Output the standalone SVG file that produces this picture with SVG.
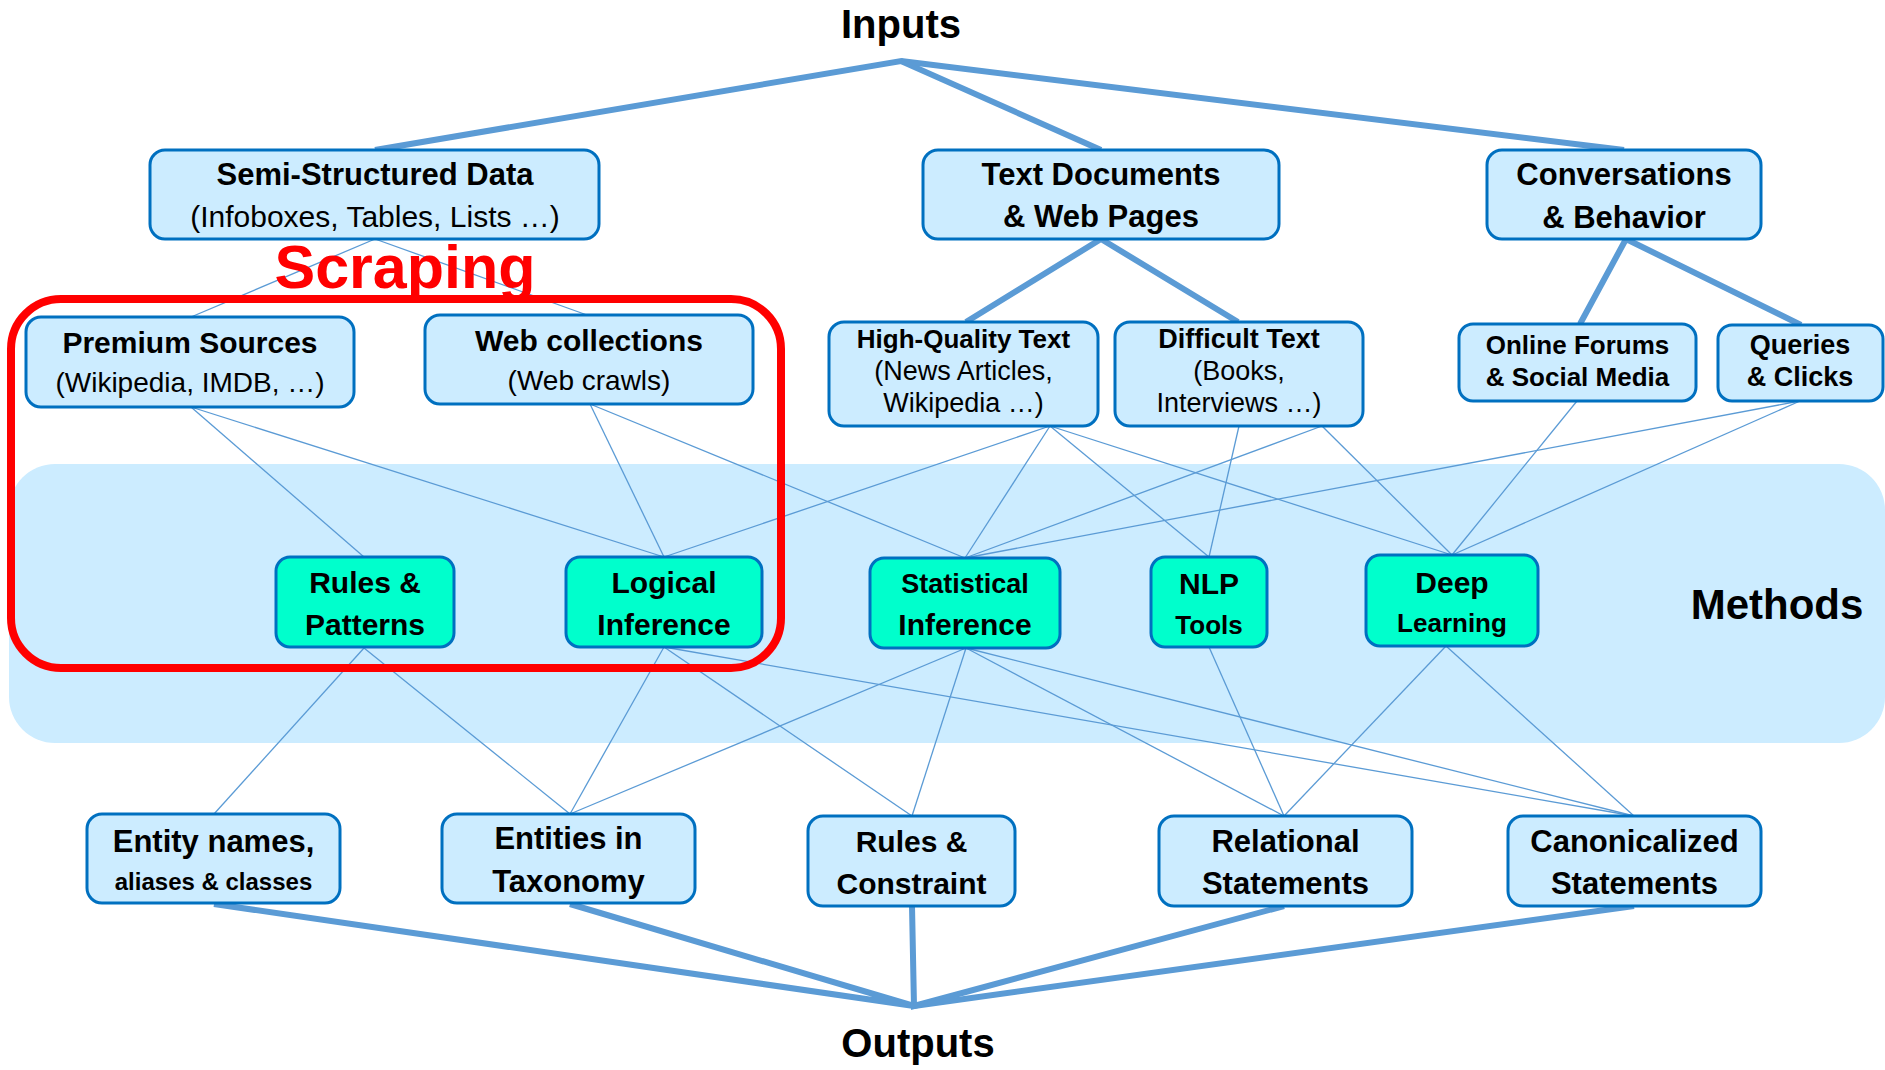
<svg xmlns="http://www.w3.org/2000/svg" width="1885" height="1070" viewBox="0 0 1885 1070">
<style>
text{font-family:"Liberation Sans",Arial,sans-serif;fill:#000;text-anchor:middle}
.b{font-weight:bold}
.box{fill:#CCECFF;stroke:#0070C0;stroke-width:3}
.mth{fill:#00FFCC;stroke:#0070C0;stroke-width:3}
.thick{stroke:#5B9BD5;stroke-width:6;fill:none;stroke-linecap:butt}
.thin{stroke:#5B9BD5;stroke-width:1.3;fill:none}
</style>
<rect id="methods-band" x="9" y="464" width="1876" height="279" rx="46" ry="46" fill="#CCECFF"/>
<text x="1777" y="619" class="b" style="font-size:42px">Methods</text>
<text x="901" y="38" class="b" style="font-size:40px">Inputs</text>
<text x="918" y="1057" class="b" style="font-size:40px">Outputs</text>
<g id="connectors">
<polyline class="thick" points="375,150 901,61 1101,150"/>
<line class="thick" x1="901" y1="61" x2="1624" y2="150"/>
<polyline class="thick" points="966,322 1101,239 1238,322"/>
<polyline class="thick" points="1580,324 1626,239 1801,325"/>
<polyline class="thick" points="214,904 914,1006 570,904"/>
<polyline class="thick" points="912,906 914,1006 1284,906"/>
<line class="thick" x1="914" y1="1006" x2="1634" y2="906"/>
<line class="thin" x1="375" y1="239" x2="191" y2="317"/>
<line class="thin" x1="375" y1="239" x2="587" y2="315"/>
<line class="thin" x1="191" y1="407" x2="364" y2="557"/>
<line class="thin" x1="191" y1="407" x2="664" y2="557"/>
<line class="thin" x1="590" y1="404" x2="664" y2="557"/>
<line class="thin" x1="590" y1="404" x2="965" y2="558"/>
<line class="thin" x1="1050" y1="426" x2="664" y2="557"/>
<line class="thin" x1="1050" y1="426" x2="965" y2="558"/>
<line class="thin" x1="1050" y1="426" x2="1209" y2="557"/>
<line class="thin" x1="1050" y1="426" x2="1452" y2="555"/>
<line class="thin" x1="1239" y1="426" x2="1209" y2="557"/>
<line class="thin" x1="1322" y1="426" x2="965" y2="558"/>
<line class="thin" x1="1322" y1="426" x2="1452" y2="555"/>
<line class="thin" x1="1577" y1="401" x2="1452" y2="555"/>
<line class="thin" x1="1800" y1="401" x2="965" y2="558"/>
<line class="thin" x1="1800" y1="401" x2="1452" y2="555"/>
<line class="thin" x1="364" y1="648" x2="214" y2="814"/>
<line class="thin" x1="364" y1="648" x2="570" y2="814"/>
<line class="thin" x1="664" y1="647" x2="570" y2="814"/>
<line class="thin" x1="664" y1="647" x2="912" y2="816"/>
<line class="thin" x1="664" y1="647" x2="1634" y2="816"/>
<line class="thin" x1="966" y1="648" x2="570" y2="814"/>
<line class="thin" x1="966" y1="648" x2="912" y2="816"/>
<line class="thin" x1="966" y1="648" x2="1284" y2="816"/>
<line class="thin" x1="966" y1="648" x2="1634" y2="816"/>
<line class="thin" x1="1209" y1="647" x2="1284" y2="816"/>
<line class="thin" x1="1446" y1="646" x2="1284" y2="816"/>
<line class="thin" x1="1446" y1="646" x2="1634" y2="816"/>
</g>
<g id="semi-structured">
<rect class="box" x="150" y="150" width="449" height="89" rx="15"/>
<text x="375" y="185" class="b" style="font-size:31px">Semi-Structured Data</text>
<text x="375" y="227" style="font-size:30px">(Infoboxes, Tables, Lists …)</text>
</g>
<g id="text-documents">
<rect class="box" x="923" y="150" width="356" height="89" rx="15"/>
<text x="1101" y="185" class="b" style="font-size:31px">Text Documents</text>
<text x="1101" y="227" class="b" style="font-size:31px">&amp; Web Pages</text>
</g>
<g id="conversations">
<rect class="box" x="1487" y="150" width="274" height="89" rx="15"/>
<text x="1624" y="185" class="b" style="font-size:31px">Conversations</text>
<text x="1624" y="228" class="b" style="font-size:31px">&amp; Behavior</text>
</g>
<g id="premium-sources">
<rect class="box" x="26" y="317" width="328" height="90" rx="15"/>
<text x="190" y="353" class="b" style="font-size:30px">Premium Sources</text>
<text x="190" y="392" style="font-size:28px">(Wikipedia, IMDB, …)</text>
</g>
<g id="web-collections">
<rect class="box" x="425" y="315" width="328" height="89" rx="15"/>
<text x="589" y="351" class="b" style="font-size:30px">Web collections</text>
<text x="589" y="390" style="font-size:28px">(Web crawls)</text>
</g>
<g id="high-quality-text">
<rect class="box" x="829" y="322" width="269" height="104" rx="15"/>
<text x="963.5" y="348" class="b" style="font-size:26px">High-Quality Text</text>
<text x="963.5" y="380" style="font-size:27px">(News Articles,</text>
<text x="963.5" y="412" style="font-size:27px">Wikipedia …)</text>
</g>
<g id="difficult-text">
<rect class="box" x="1115" y="322" width="248" height="104" rx="15"/>
<text x="1239" y="348" class="b" style="font-size:27px">Difficult Text</text>
<text x="1239" y="380" style="font-size:27px">(Books,</text>
<text x="1239" y="412" style="font-size:27px">Interviews …)</text>
</g>
<g id="online-forums">
<rect class="box" x="1459" y="324" width="237" height="77" rx="14"/>
<text x="1577.5" y="354" class="b" style="font-size:26px">Online Forums</text>
<text x="1577.5" y="386" class="b" style="font-size:26px">&amp; Social Media</text>
</g>
<g id="queries-clicks">
<rect class="box" x="1718" y="325" width="165" height="76" rx="14"/>
<text x="1800" y="354" class="b" style="font-size:27px">Queries</text>
<text x="1800" y="386" class="b" style="font-size:27px">&amp; Clicks</text>
</g>
<g id="rules-patterns">
<rect class="mth" x="276" y="557" width="178" height="90" rx="14"/>
<text x="365" y="593" class="b" style="font-size:30px">Rules &amp;</text>
<text x="365" y="635" class="b" style="font-size:30px">Patterns</text>
</g>
<g id="logical-inference">
<rect class="mth" x="566" y="557" width="196" height="90" rx="14"/>
<text x="664" y="593" class="b" style="font-size:30px">Logical</text>
<text x="664" y="635" class="b" style="font-size:30px">Inference</text>
</g>
<g id="statistical-inference">
<rect class="mth" x="870" y="558" width="190" height="90" rx="14"/>
<text x="965" y="593" class="b" style="font-size:27px">Statistical</text>
<text x="965" y="635" class="b" style="font-size:30px">Inference</text>
</g>
<g id="nlp-tools">
<rect class="mth" x="1151" y="557" width="116" height="90" rx="14"/>
<text x="1209" y="594" class="b" style="font-size:30px">NLP</text>
<text x="1209" y="634" class="b" style="font-size:26px">Tools</text>
</g>
<g id="deep-learning">
<rect class="mth" x="1366" y="555" width="172" height="91" rx="14"/>
<text x="1452" y="593" class="b" style="font-size:30px">Deep</text>
<text x="1452" y="632" class="b" style="font-size:26px">Learning</text>
</g>
<g id="entity-names">
<rect class="box" x="87" y="814" width="253" height="89" rx="15"/>
<text x="213.5" y="852" class="b" style="font-size:31px">Entity names,</text>
<text x="213.5" y="890" class="b" style="font-size:24px">aliases &amp; classes</text>
</g>
<g id="entities-taxonomy">
<rect class="box" x="442" y="814" width="253" height="89" rx="15"/>
<text x="568.5" y="849" class="b" style="font-size:31px">Entities in</text>
<text x="568.5" y="892" class="b" style="font-size:31px">Taxonomy</text>
</g>
<g id="rules-constraint">
<rect class="box" x="808" y="816" width="207" height="90" rx="15"/>
<text x="911.5" y="852" class="b" style="font-size:30px">Rules &amp;</text>
<text x="911.5" y="894" class="b" style="font-size:30px">Constraint</text>
</g>
<g id="relational-statements">
<rect class="box" x="1159" y="816" width="253" height="90" rx="15"/>
<text x="1285.5" y="852" class="b" style="font-size:31px">Relational</text>
<text x="1285.5" y="894" class="b" style="font-size:31px">Statements</text>
</g>
<g id="canonicalized-statements">
<rect class="box" x="1508" y="816" width="253" height="90" rx="15"/>
<text x="1634.5" y="852" class="b" style="font-size:31px">Canonicalized</text>
<text x="1634.5" y="894" class="b" style="font-size:31px">Statements</text>
</g>
<g id="scraping">
<rect x="11" y="299" width="770" height="369" rx="50" ry="50" fill="none" stroke="#FF0000" stroke-width="8"/>
<text x="405" y="288" class="b" style="font-size:61px;fill:#FF0000">Scraping</text>
</g>
</svg>
